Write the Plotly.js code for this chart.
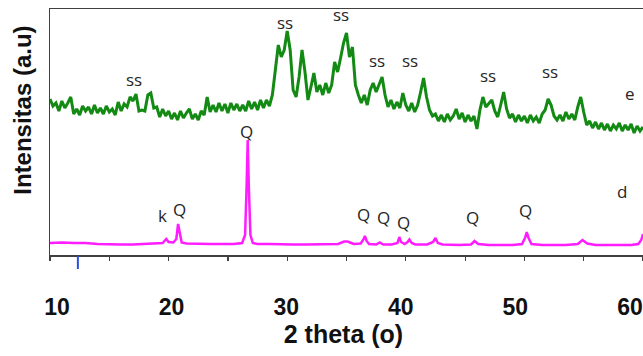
<!DOCTYPE html>
<html>
<head>
<meta charset="utf-8">
<script src="https://cdn.plot.ly/plotly-3.0.1.min.js"></script>
<style>html,body{margin:0;padding:0;background:#fff;}#chart{width:643px;height:356px;}</style>
</head>
<body>
<div id="chart"></div>
<script>
// ---- Data (intensity in arbitrary units) ----
// Sample e (green): uniform scan from 10 deg, step 0.25 deg
const greenStart = 10;
const greenStep = 0.25;
const greenIntensity = [
  156,149,152,144, 154,147,152,158, 141,146,140,149, 144,148,141,150,
  142,147,141,149, 143,146,140,153, 144,151,148,158, 154,161,144,145,
  144,160,162,147, 148,138,146,139, 144,136,142,135, 144,137,142,146,
  136,141,135,144, 140,158,143,150, 143,152,144,151, 142,152,145,151,
  144,150,144,154, 146,153,145,155, 147,155,149,160, 185,210,198,205,
  224,205,165,158, 178,205,183,155, 168,182,163,170, 160,172,162,170,
  193,183,197,212, 222,198,208,170, 160,152,160,150, 165,172,163,170,
  178,160,148,155, 146,153,147,162, 150,144,152,143, 150,163,177,158,
  145,139,141,134, 140,133,141,135, 139,146,136,142, 133,140,134,139,
  126,145,158,148, 152,155,144,138, 150,163,146,137, 141,133,140,134,
  139,132,140,134, 138,132,141,145, 156,150,139,135, 140,134,143,136,
  141,135,148,158, 143,130,134,127, 133,126,132,125, 131,124,130,126,
  132,124,130,125, 131,122,129,124, 128
];

// Sample d (magenta)
const pinkTheta = [10,11,12,13,14,15,16,17,18,19,19.5,19.8,20,20.4,20.65,20.8,20.95,21.1,21.5,22.5,23.5,24.5,25.5,26.2,26.45,26.58,26.67,26.76,26.9,27.1,27.5,28.5,29.5,30.5,31.5,32.5,33.5,34.3,34.8,35.1,35.6,36.2,36.45,36.55,36.7,36.9,37.5,37.8,38.1,38.8,39.3,39.45,39.6,39.9,40.15,40.3,40.5,40.8,41.8,42.3,42.5,42.7,43.1,44.5,45.5,45.8,46.1,47,48,49,49.8,50.05,50.2,50.35,50.6,51.5,52.5,53.5,54.5,54.9,55.3,56,57,58,59,59.6,59.85,60];
const pinkIntensity = [12,12.5,12,12,11,10.5,10.5,10.5,11,11,12,16,13,12.5,16,31,22,12.5,11.5,11,11,11,11,12,20,70,115,70,20,12,11,11,10.5,10.5,10.5,10.5,10.5,11,13.5,13.5,11,11.5,16,19,14,11,10.5,12.5,10.5,10.5,12,18,13,11,13,15.5,12,10.5,10.5,13,17,12,10.5,10,10.5,14,11,10,10,10,11,17,23,17,11,10,10,10,11,15,11.5,10,10,10,10,11,15,21];

// Peak labels
const labelText  = ['ss','ss','ss','ss','ss','ss','ss','e','k','Q','Q','Q','Q','Q','Q','Q','d'];
const labelTheta = [17.1,29.8,34.5,37.6,40.35,46.9,52.2,58.9,19.5,20.9,26.55,36.4,38.1,39.8,45.6,50.1,58.2];
const labelInt   = [176,233,241,195,195,180,184,162,40,46,124,41,38,33,38,45,64];

// Axis ticks
const xTickVals = [10,15,20,25,30,35,40,45,50,55,60];
const xLabelVals = [10,20,30,40,50,60];
const xLabelText = ['10','20','30','40','50','60'];
const markerTheta = 12.35;

const xRange = [10,60];
const yRange = [0,246];

const traces = [
  {type:'scatter', mode:'lines', x0:greenStart, dx:greenStep, y:greenIntensity,
   line:{color:'#138a13', width:3}, hoverinfo:'skip', showlegend:false},
  {type:'scatter', mode:'lines', x:pinkTheta, y:pinkIntensity,
   line:{color:'#ff1cff', width:2.5}, hoverinfo:'skip', showlegend:false},
  {type:'scatter', mode:'lines', x:[], y:[], xaxis:'x2', yaxis:'y', hoverinfo:'skip', showlegend:false},
  {type:'scatter', mode:'lines', x:[], y:[], xaxis:'x', yaxis:'y2', hoverinfo:'skip', showlegend:false}
];

const annotations = labelText.map((t,i)=>({
  x: labelTheta[i], y: labelInt[i], xref:'x', yref:'y', text:t, showarrow:false,
  font:{family:'Open Sans, sans-serif', size:17, color:'#262626'}
}));

const layout = {
  width:643, height:356,
  margin:{l:50, r:0, t:9, b:101, pad:0},
  paper_bgcolor:'#ffffff', plot_bgcolor:'rgba(0,0,0,0)',
  showlegend:false,
  xaxis:{range:xRange, domain:[0,1], showline:true, linecolor:'#404040', linewidth:1.5, mirror:true,
         ticks:'outside', tickmode:'array', tickvals:xTickVals, ticklen:4, tickwidth:1.2, tickcolor:'#404040',
         showticklabels:false, showgrid:false, zeroline:false, fixedrange:true},
  xaxis2:{range:xRange, domain:[0.0118,0.978], anchor:'y', showline:false, ticks:'', tickmode:'array', tickvals:xLabelVals, ticktext:xLabelText,
          tickfont:{family:'Liberation Sans, Arial, sans-serif', size:23, color:'#111111', weight:'bold'},
          ticklabelstandoff:36, showgrid:false, zeroline:false, fixedrange:true,
          title:{text:'2 theta (o)', font:{family:'Liberation Sans, Arial, sans-serif', size:25, color:'#111111', weight:'bold'}, standoff:4}},
  yaxis:{range:yRange, domain:[0,1], showline:true, linecolor:'#404040', linewidth:1.5, ticks:'',
         showticklabels:false, showgrid:false, zeroline:false, fixedrange:true},
  yaxis2:{range:[0,1], domain:[0.178,1], anchor:'x', showline:false, ticks:'', showticklabels:false,
          showgrid:false, zeroline:false, fixedrange:true,
          title:{text:'Intensitas (a.u)', font:{family:'Liberation Sans, Arial, sans-serif', size:24, color:'#111111', weight:'bold'}, standoff:10}},
  annotations: annotations,
  shapes:[{type:'line', xref:'x', yref:'paper', x0:markerTheta, x1:markerTheta, y0:-0.004, y1:-0.057,
           line:{color:'#2b4fe0', width:2}}]
};

Plotly.newPlot('chart', traces, layout, {staticPlot:true, displayModeBar:false});
</script>
</body>
</html>
